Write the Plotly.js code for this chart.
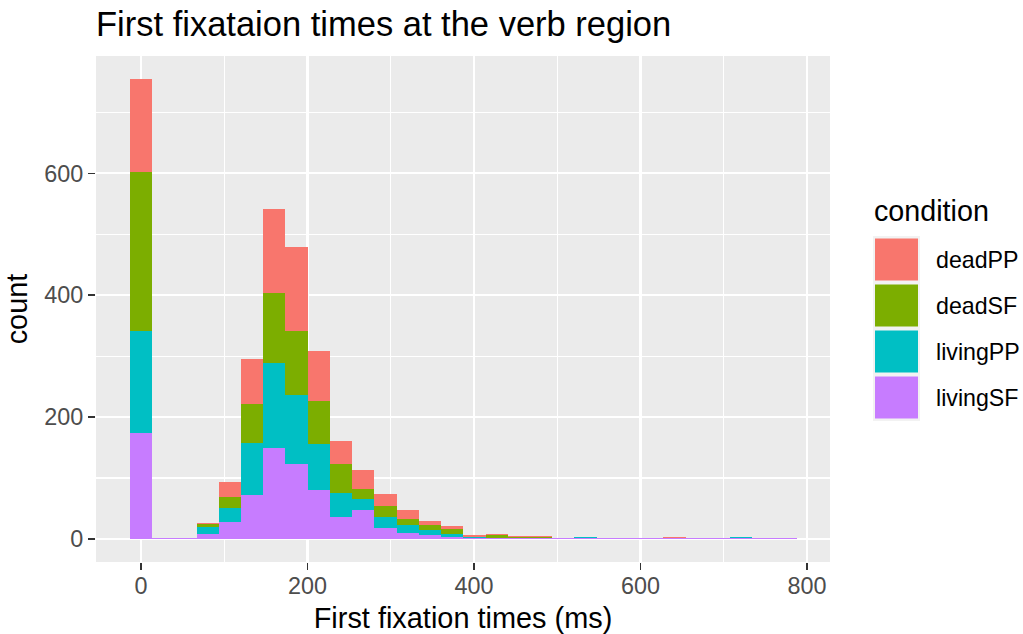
<!DOCTYPE html>
<html>
<head>
<meta charset="utf-8">
<script src="https://cdn.plot.ly/plotly-3.0.1.min.js"></script>
<style>
  html, body { margin: 0; padding: 0; background: #ffffff; }
  #chart { width: 1023px; height: 634px; }
</style>
</head>
<body>
<div id="chart"></div>
<script>
// ---- data (stacked histogram, 30 bins) ----
var binCenters = [0, 26.7, 53.4, 80.1, 106.8, 133.5, 160.2, 186.9, 213.6, 240.3,
                  267, 293.7, 320.4, 347.1, 373.8, 400.5, 427.2, 453.9, 480.6, 507.3,
                  534, 560.7, 587.4, 614.1, 640.8, 667.5, 694.2, 720.9, 747.6, 774.3];
var binWidth = 26.7;

var conditions = ["deadPP", "deadSF", "livingPP", "livingSF"];
var colors = ["#F8766D", "#7CAE00", "#00BFC4", "#C77CFF"];

var deadPP   = [153, 0, 0, 2, 25, 73, 138, 138, 82, 38, 31, 20, 15, 6, 5, 4, 2, 2, 2, 0, 0, 0, 0, 0, 2, 0, 0, 0, 0, 0];
var deadSF   = [261, 0, 0, 6, 18, 65, 115, 105, 70, 48, 16, 18, 10, 8, 7, 0, 4, 1, 1, 0, 0, 0, 0, 0, 0, 0, 0, 0, 0, 0];
var livingPP = [167, 0, 0, 10, 23, 85, 139, 113, 76, 39, 18, 18, 13, 8, 5, 1, 0, 0, 0, 0, 2, 0, 0, 0, 0, 0, 0, 2, 0, 0];
var livingSF = [174, 1, 1, 9, 28, 72, 150, 123, 80, 36, 48, 18, 10, 7, 4, 2, 2, 2, 2, 1, 1, 1, 1, 1, 1, 1, 1, 1, 1, 1];

var xTicks = [0, 200, 400, 600, 800];
var yTicks = [0, 200, 400, 600];

var seriesByCond = {deadPP: deadPP, deadSF: deadSF, livingPP: livingPP, livingSF: livingSF};

// stacking order: livingSF at the bottom, deadPP on top
var stackOrder = ["livingSF", "livingPP", "deadSF", "deadPP"];
var traces = stackOrder.map(function (c) {
  var i = conditions.indexOf(c);
  return {
    type: "bar",
    name: c,
    x: binCenters,
    y: seriesByCond[c],
    width: binWidth,
    marker: {color: colors[i], line: {width: 0}},
    showlegend: false,
    hoverinfo: "x+y+name"
  };
});

var FONT = "Liberation Sans, Arial, Helvetica, sans-serif";

// plot area in pixels
var W = 1023, H = 634;
var mL = 96, mR = 193, mT = 56, mB = 72;
var plotW = W - mL - mR, plotH = H - mT - mB;
function px2x(px) { return (px - mL) / plotW; }
function py2y(py) { return (H - mB - py) / plotH; }

// ---- manual legend (ggplot style big keys) ----
var shapes = [];
var annotations = [];
var keyLeft = 873, keyRight = 920, keyTop = 236, keyStep = 46;
shapes.push({
  type: "rect", xref: "paper", yref: "paper", layer: "above",
  x0: px2x(keyLeft), x1: px2x(keyRight),
  y0: py2y(keyTop), y1: py2y(keyTop + keyStep * conditions.length + 1),
  fillcolor: "#F2F2F2", line: {width: 0}
});
conditions.forEach(function (c, i) {
  var top = keyTop + i * keyStep;
  shapes.push({
    type: "rect", xref: "paper", yref: "paper", layer: "above",
    x0: px2x(keyLeft + 2), x1: px2x(keyRight - 2),
    y0: py2y(top + 2.5), y1: py2y(top + keyStep - 1.5),
    fillcolor: colors[i], line: {width: 0}
  });
  annotations.push({
    xref: "paper", yref: "paper",
    x: px2x(934), y: py2y(top + keyStep / 2 + 0.5),
    xanchor: "left", yanchor: "middle",
    text: c, showarrow: false,
    font: {family: FONT, size: 23.2, color: "#000000"}
  });
});
annotations.push({
  xref: "paper", yref: "paper",
  x: px2x(872), y: py2y(211),
  xanchor: "left", yanchor: "middle",
  text: "condition", showarrow: false,
  font: {family: FONT, size: 28.7, color: "#000000"}
});

var layout = {
  width: W, height: H,
  margin: {l: mL, r: mR, t: mT, b: mB, pad: 0},
  paper_bgcolor: "#FFFFFF",
  plot_bgcolor: "#EBEBEB",
  barmode: "stack",
  showlegend: false,
  font: {family: FONT, color: "#000000"},
  title: {
    text: "First fixataion times at the verb region",
    xref: "container", yref: "container",
    x: 96 / W, xanchor: "left",
    y: 1 - 24 / H, yanchor: "middle",
    font: {family: FONT, size: 34.5, color: "#000000"}
  },
  xaxis: {
    range: [-54, 827.6],
    tickmode: "array", tickvals: xTicks, ticktext: xTicks.map(String),
    ticks: "outside", ticklen: 7, tickwidth: 1.6, tickcolor: "#333333",
    ticklabelstandoff: -4,
    tickfont: {family: FONT, size: 23.4, color: "#4D4D4D"},
    showgrid: true, gridcolor: "#FFFFFF", gridwidth: 2.3,
    minor: {dtick: 100, tick0: 0, showgrid: true, gridcolor: "#FFFFFF", gridwidth: 1.2, ticks: ""},
    zeroline: false, showline: false,
    title: {text: "First fixation times (ms)", standoff: 11,
            font: {family: FONT, size: 28.9, color: "#000000"}}
  },
  yaxis: {
    range: [-37.7, 792.5],
    tickmode: "array", tickvals: yTicks, ticktext: yTicks.map(String),
    ticks: "outside", ticklen: 7, tickwidth: 1.6, tickcolor: "#333333",
    tickfont: {family: FONT, size: 23.4, color: "#4D4D4D"},
    showgrid: true, gridcolor: "#FFFFFF", gridwidth: 2.3,
    minor: {dtick: 100, tick0: 0, showgrid: true, gridcolor: "#FFFFFF", gridwidth: 1.2, ticks: ""},
    zeroline: false, showline: false,
    title: {text: "count", standoff: 8,
            font: {family: FONT, size: 28.9, color: "#000000"}}
  },
  shapes: shapes,
  annotations: annotations
};

Plotly.newPlot("chart", traces, layout, {staticPlot: true, displayModeBar: false});
</script>
</body>
</html>
